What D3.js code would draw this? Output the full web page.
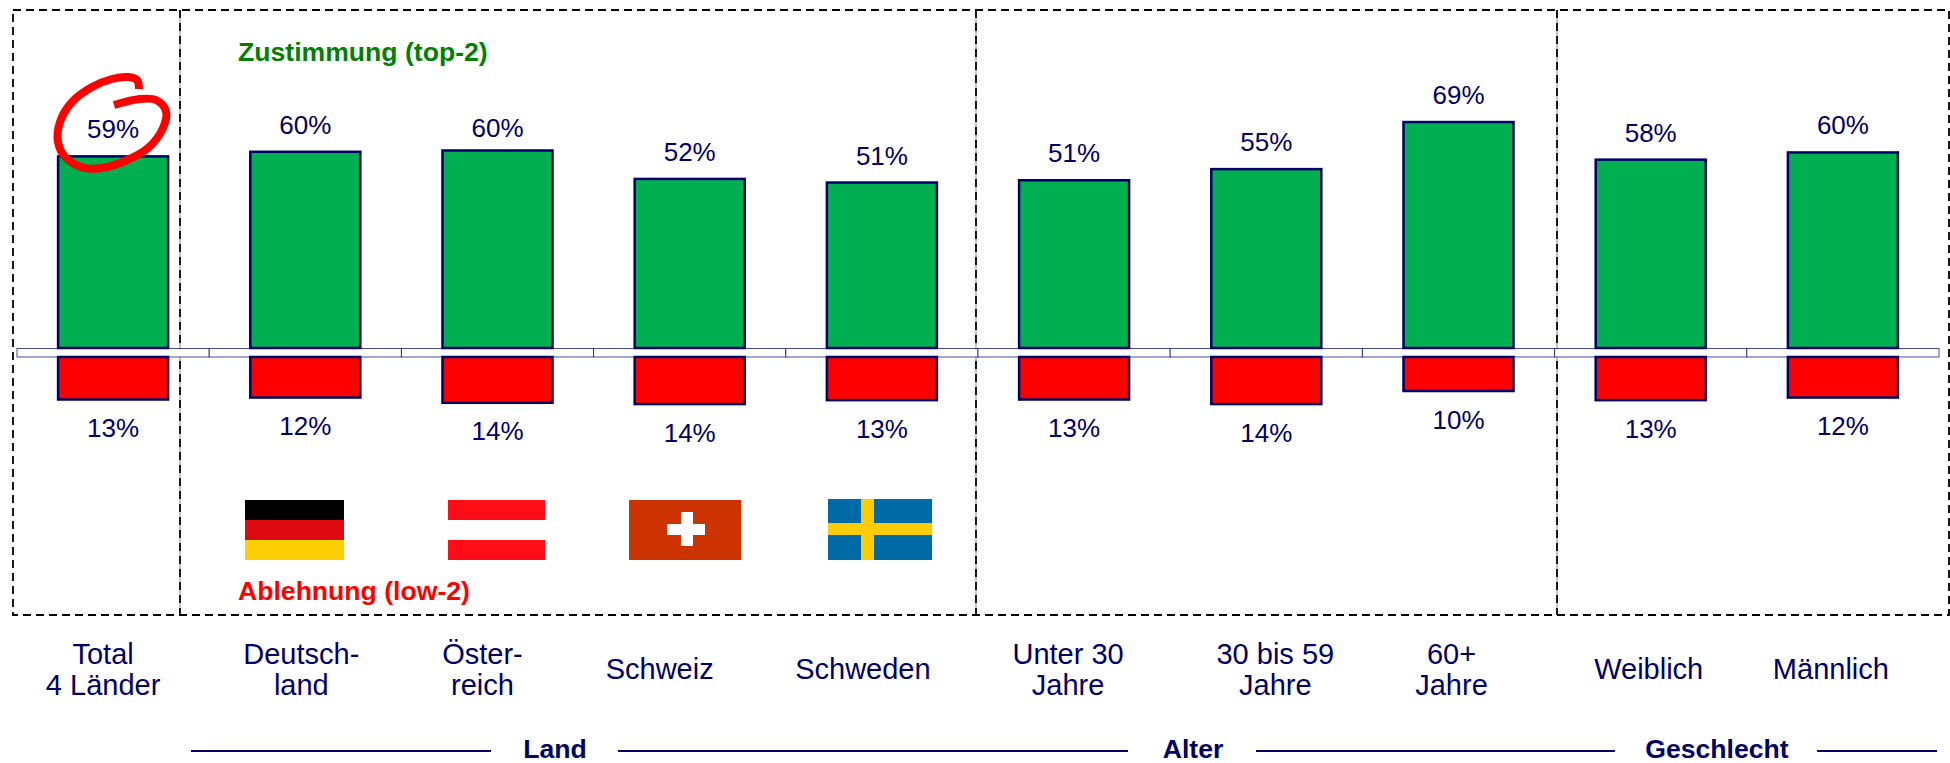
<!doctype html>
<html>
<head>
<meta charset="utf-8">
<script src="https://d3js.org/d3.v7.min.js" charset="utf-8"></script>
<style>
  body { margin: 0; background: #fff; }
  svg { display: block; }
  text { font-family: "Liberation Sans", Arial, sans-serif; font-size: 26px; fill: #000066; }
  .bold { font-weight: bold; font-size: 26.6px; }
  .cat { font-size: 29px; }
</style>
</head>
<body>
<svg width="1950" height="763"></svg>
<script>
// values, labels in the source are rounded
var categories = ["Total", "Deutschland", "Oesterreich", "Schweiz", "Schweden", "U30", "30-59", "60+", "Weiblich", "Maennlich"];
var catLabels = [["Total", "4 Länder"], ["Deutsch-", "land"], ["Öster-", "reich"], ["Schweiz"], ["Schweden"],
  ["Unter 30", "Jahre"], ["30 bis 59", "Jahre"], ["60+", "Jahre"], ["Weiblich"], ["Männlich"]];
var zustimmung = [58.6, 60, 60.4, 51.7, 50.6, 51.3, 54.7, 69.1, 57.6, 59.8];
var ablehnung = [13, 12.4, 14, 14.4, 13.2, 13, 14.4, 10.4, 13.2, 12.4];

// layout only
var labelNudge = [-10, -4, -15, -30, -19, -6, 9, -7, -2, -12];
var color = {navy: "#000066", green: "#00b050", red: "#ff0000"};

var svg = d3.select("svg");

var x = d3.scaleBand().domain(categories).range([17, 1939]).paddingInner(0.4276).paddingOuter(0.2138);
var yUp = d3.scaleLinear().domain([0, 100]).range([348, 21]);
var yDown = d3.scaleLinear().domain([0, 100]).range([357, 684]);
var pct = function(v) { return Math.round(v) + "%"; };

// dashed frame
var frame = svg.append("g").attr("fill", "none").attr("stroke", "#000").attr("stroke-width", 1.8);
frame.append("rect").attr("x", 13).attr("y", 10).attr("width", 1936).attr("height", 605)
    .attr("stroke-dasharray", "8,5");
[180, 976, 1557].forEach(function(px) {
  frame.append("line").attr("x1", px).attr("x2", px).attr("y1", 10).attr("y2", 615)
      .attr("stroke-dasharray", "8,5");
  frame.append("line").attr("x1", px).attr("x2", px).attr("y1", 10).attr("y2", 615)
      .attr("stroke", "#888").attr("stroke-width", 1).attr("stroke-dasharray", "5,8").attr("stroke-dashoffset", -8);
});

// the thin strip between the two bar directions
svg.append("g").selectAll("rect").data(categories).join("rect")
    .attr("x", function(d) { return x(d) - x.step() * x.paddingInner() / 2; })
    .attr("width", x.step())
    .attr("y", 348.5).attr("height", 8.5)
    .attr("fill", "#fff").attr("stroke", color.navy).attr("stroke-opacity", 0.7).attr("stroke-width", 1);

// bars
svg.append("g").selectAll("rect").data(zustimmung).join("rect")
    .attr("x", function(d, i) { return x(categories[i]); })
    .attr("width", x.bandwidth())
    .attr("y", function(d) { return yUp(d); })
    .attr("height", function(d) { return yUp(0) - yUp(d); })
    .attr("fill", color.green).attr("stroke", color.navy).attr("stroke-width", 2.5);

svg.append("g").selectAll("rect").data(ablehnung).join("rect")
    .attr("x", function(d, i) { return x(categories[i]); })
    .attr("width", x.bandwidth())
    .attr("y", yDown(0))
    .attr("height", function(d) { return yDown(d) - yDown(0); })
    .attr("fill", color.red).attr("stroke", color.navy).attr("stroke-width", 2.5);

// value labels, the Oesterreich one sits a little lower in the original
svg.append("g").selectAll("text").data(zustimmung).join("text")
    .attr("x", function(d, i) { return x(categories[i]) + x.bandwidth() / 2; })
    .attr("y", function(d, i) { return yUp(d) - (i == 2 ? 13 : 18); })
    .attr("text-anchor", "middle")
    .text(pct);

svg.append("g").selectAll("text").data(ablehnung).join("text")
    .attr("x", function(d, i) { return x(categories[i]) + x.bandwidth() / 2; })
    .attr("y", function(d) { return yDown(d) + 37.5; })
    .attr("text-anchor", "middle")
    .text(pct);

// category labels
var cat = svg.append("g").selectAll("text").data(catLabels).join("text")
    .attr("class", "cat")
    .attr("text-anchor", "middle")
    .attr("transform", function(d, i) {
      return "translate(" + (x(categories[i]) + x.bandwidth() / 2 + labelNudge[i]) + "," + (d.length > 1 ? 664 : 679) + ")";
    });
cat.selectAll("tspan").data(function(d) { return d; }).join("tspan")
    .attr("x", 0)
    .attr("dy", function(d, i) { return i ? 31 : 0; })
    .text(function(d) { return d; });

// legend-like headings
svg.append("text").attr("class", "bold").attr("x", 238).attr("y", 61).style("fill", "#008000").text("Zustimmung (top-2)");
svg.append("text").attr("class", "bold").attr("x", 238).attr("y", 600).style("fill", color.red).text("Ablehnung (low-2)");

// group headings with their rules
var groupNames = ["Land", "Alter", "Geschlecht"];
var groupCenters = [555, 1193, 1717];
var ruleSpans = [[191, 491], [618, 1128], [1256, 1615], [1817, 1937]];
svg.append("g").selectAll("line").data(ruleSpans).join("line")
    .attr("x1", function(d) { return d[0]; }).attr("x2", function(d) { return d[1]; })
    .attr("y1", 751).attr("y2", 751)
    .attr("stroke", color.navy).attr("stroke-width", 2);
svg.append("g").selectAll("text").data(groupNames).join("text")
    .attr("class", "bold")
    .attr("x", function(d, i) { return groupCenters[i]; })
    .attr("y", 758)
    .attr("text-anchor", "middle")
    .text(function(d) { return d; });

// flags
function stripes(x0, w, cols) {
  var h = 60 / cols.length;
  svg.append("g").selectAll("rect").data(cols).join("rect")
      .attr("x", x0).attr("width", w)
      .attr("y", function(d, i) { return 500 + i * h; }).attr("height", h)
      .attr("fill", function(d) { return d; });
}
stripes(245, 99, ["#000000", "#dc0a10", "#ffcf06"]);
stripes(448, 97, ["#ff0d17", "#ffffff", "#ff0d17"]);

svg.append("rect").attr("x", 629).attr("y", 500).attr("width", 112).attr("height", 60).attr("fill", "#cc3300");
svg.append("rect").attr("x", 681).attr("y", 512).attr("width", 12).attr("height", 34).attr("fill", "#fff");
svg.append("rect").attr("x", 667).attr("y", 524).attr("width", 38).attr("height", 11).attr("fill", "#fff");

svg.append("rect").attr("x", 828).attr("y", 499).attr("width", 104).attr("height", 61).attr("fill", "#006aa7");
svg.append("rect").attr("x", 861).attr("y", 499).attr("width", 13).attr("height", 61).attr("fill", "#fecc00");
svg.append("rect").attr("x", 828).attr("y", 523).attr("width", 104).attr("height", 12).attr("fill", "#fecc00");

// hand drawn red circle round the total
var scribble = [[139, 89], [137, 80], [128, 77], [112, 79], [92, 87], [72, 102], [60, 122], [58, 142], [66, 158], [84, 168],
  [102, 168], [125, 161], [148, 148], [163, 128], [166, 111], [156, 100], [140, 99], [114, 105]];
svg.append("path")
    .attr("d", d3.line().curve(d3.curveCatmullRom)(scribble))
    .attr("fill", "none").attr("stroke", "#ff0000").attr("stroke-width", 8).attr("stroke-linecap", "butt");
</script>
</body>
</html>
